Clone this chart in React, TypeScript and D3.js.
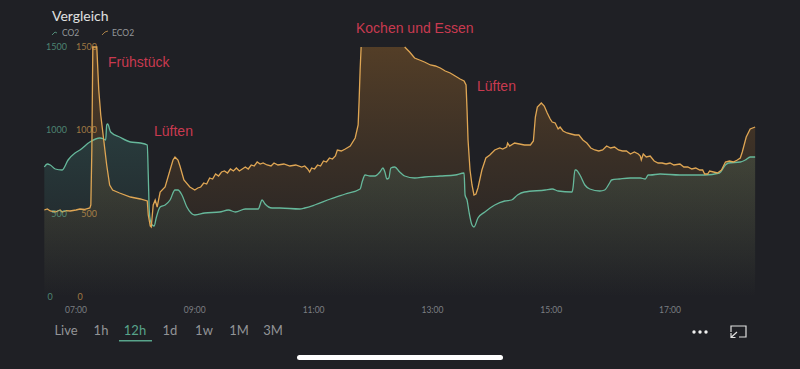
import React from "react";
import * as d3 from "d3";

type P = [number, number];
// [minutes since midnight, ppm]
const eco2Morning: P[] = [[388,522],[391,528],[394,516],[399,510],[404,522],[406,510],[410,518],[414,516],[420,522],[424,528],[429,526],[434,534],[435,552],[436,882],[437,1500],[438,1506],[441,1500],[443,1242],[445,1092],[448,942],[451,792],[454,672],[457,642],[464,624],[475,600],[485,588],[492,576],[493,492],[495,426],[496,420],[498,552],[500,582],[502,540],[505,630],[510,660],[515,762],[518,822],[520,840],[523,822],[525,786],[529,702],[535,660]];
const eco2Midday: P[] = [[540,642],[543,654],[546,660],[549,684],[552,678],[555,714],[558,708],[561,738],[564,726],[567,750],[570,756],[573,744],[576,768],[579,756],[582,774],[585,756],[588,768],[591,780],[594,768],[597,792],[600,786],[603,810],[606,798],[609,804],[613,792],[617,786],[620,804],[624,792],[630,798],[636,786],[642,792],[648,780],[651,786],[654,768],[656,750],[658,774],[661,768],[664,792],[667,786],[670,816],[673,810],[676,834],[679,828],[682,846],[684,882],[688,876],[692,888],[697,906],[702,954],[705,1032],[706,1182],[707,1362],[708,1500]];
const eco2Cooking: P[] = [[730,1500],[752,1500],[757,1470],[762,1434],[767,1422],[772,1410],[778,1392],[783,1386],[788,1374],[793,1356],[798,1344],[803,1326],[808,1308],[812,1296],[814,1272],[815,1122],[816,942],[818,762],[820,672],[822,612],[824,618],[826,654],[830,762],[834,834],[838,852],[843,882],[848,894],[851,888],[855,900],[856,924],[858,906],[863,924],[868,918],[873,912],[879,912]];
const eco2Afternoon: P[] = [[882,936],[884,1080],[886,1140],[890,1164],[893,1146],[896,1104],[899,1068],[901,1050],[904,1044],[907,1008],[909,1020],[912,996],[916,984],[920,978],[924,972],[928,972],[932,942],[936,924],[940,894],[944,882],[948,876],[952,882],[956,906],[960,894],[964,900],[968,882],[972,876],[976,876],[980,858],[984,870],[988,858],[990,846],[991,822],[993,858],[996,840],[1000,846],[1004,816],[1008,804],[1012,804],[1016,798],[1020,804],[1024,792],[1030,798],[1034,780],[1038,780],[1042,768],[1046,774],[1050,762],[1053,762],[1055,738],[1058,738],[1060,756],[1064,750],[1068,744],[1072,762],[1076,810],[1080,816],[1084,810],[1088,822],[1091,834],[1093,870],[1097,960],[1101,1008],[1106,1020]];
const co2Morning: P[] = [[388,780],[391,798],[394,792],[399,768],[406,762],[412,822],[419,864],[424,882],[434,930],[444,954],[448,948],[450,942],[451,1032],[452,1038],[455,990],[464,960],[475,930],[485,924],[492,912],[493,732],[494,522],[495,462],[497,432],[499,426],[501,474],[505,540],[510,552],[515,582],[520,642],[523,642],[527,612],[532,540],[540,492],[550,504],[565,510],[574,522],[581,510],[591,528],[604,528],[608,582],[611,558],[618,534]];
const co2Midday: P[] = [[626,534],[646,528],[651,534],[661,552],[677,588],[692,618],[707,648],[709,690],[712,732],[717,726],[722,726],[727,750],[730,774],[732,750],[734,708],[736,714],[738,774],[742,780],[747,750],[752,726],[762,714],[772,720],[788,726],[803,732],[812,744],[813,612],[815,582],[817,510],[820,432],[822,420],[826,474],[833,510],[843,552],[853,576],[860,582],[866,612],[873,630]];
const co2Afternoon: P[] = [[894,642],[901,648],[907,636],[921,630],[922,654],[924,762],[925,762],[929,732],[934,672],[939,648],[949,636],[954,642],[959,684],[961,702],[969,708],[980,714],[990,714],[995,708],[998,732],[1000,732],[1010,738],[1030,732],[1055,732],[1070,744],[1076,792],[1079,804],[1091,810],[1096,822],[1101,840],[1106,840]];

const yTicks = [0, 500, 1000, 1500];
const xTickMinutes = [420, 540, 660, 780, 900, 1020];
const ranges = ["Live", "1h", "12h", "1d", "1w", "1M", "3M"];
const rangeX = [66, 101, 135, 170, 204, 239, 273];
const notes = [
  { text: "Frühstück", x: 108, y: 67 },
  { text: "Lüften", x: 154, y: 136 },
  { text: "Kochen und Essen", x: 356, y: 33 },
  { text: "Lüften", x: 477, y: 91 },
];

const BG = "#1f2025";
const TEAL = "#66b89b";
const ORANGE = "#dfa654";
const FILL_TEAL = "#4fa79a";
const FILL_ORANGE = "#d98a2c";
const UI = "Lato, 'Open Sans', sans-serif";

const fmt = (m: number) => `${String(Math.floor(m / 60)).padStart(2, "0")}:00`;

export default function App() {
  const x = d3.scaleLinear().domain([420, 1020]).range([76, 670]);
  const y = d3.scaleLinear().domain([0, 1500]).range([297, 47]);
  const clipV = (v: number) => Math.min(v, 1500);
  const area = d3.area<P>().x((d) => x(d[0])).y0(y(0)).y1((d) => y(clipV(d[1])));
  const co2Line = d3.line<P>().x((d) => x(d[0])).y((d) => y(clipV(d[1]))).curve(d3.curveMonotoneX);
  // the eCO2 outline is open across the clipped plateau
  const eco2Line = d3.line<P>()
    .defined((d) => !(d[0] > 708 && d[0] < 752))
    .x((d) => x(d[0]))
    .y((d) => y(clipV(d[1])));
  const eco2 = [...eco2Morning, ...eco2Midday, ...eco2Cooking, ...eco2Afternoon];
  const co2 = [...co2Morning, ...co2Midday, ...co2Afternoon];

  return (
    <svg width={800} height={369} style={{ position: "absolute", left: 0, top: 0, background: BG }}>
      <defs>
        <linearGradient id="gCo2" gradientUnits="userSpaceOnUse" x1="0" y1="47" x2="0" y2="297">
          <stop offset="0" stopColor={FILL_TEAL} stopOpacity={0.3} />
          <stop offset="0.45" stopColor={FILL_TEAL} stopOpacity={0.17} />
          <stop offset="1" stopColor={FILL_TEAL} stopOpacity={0} />
        </linearGradient>
        <linearGradient id="gEco2" gradientUnits="userSpaceOnUse" x1="0" y1="47" x2="0" y2="297">
          <stop offset="0" stopColor={FILL_ORANGE} stopOpacity={0.28} />
          <stop offset="0.45" stopColor={FILL_ORANGE} stopOpacity={0.14} />
          <stop offset="1" stopColor={FILL_ORANGE} stopOpacity={0} />
        </linearGradient>
      </defs>

      <text x={52} y={21} fill="#e0e0e0" fontSize={14} fontFamily={UI}>Vergleich</text>
      <path d="M52 35 L55 32 L57 33" fill="none" stroke={TEAL} strokeWidth={1} opacity={0.7} />
      <text x={62} y={36} fill="#94979a" fontSize={8.5} fontFamily={UI}>CO2</text>
      <path d="M102 35 L105 32 L108 31" fill="none" stroke={ORANGE} strokeWidth={1} opacity={0.7} />
      <text x={112} y={36} fill="#94979a" fontSize={8.5} fontFamily={UI}>ECO2</text>

      <path d={area(co2) ?? ""} fill="url(#gCo2)" />
      <path d={area(eco2) ?? ""} fill="url(#gEco2)" />
      <path d={co2Line(co2) ?? ""} fill="none" stroke={TEAL} strokeWidth={1.3} />
      <path d={eco2Line(eco2) ?? ""} fill="none" stroke={ORANGE} strokeWidth={1.3} />

      {yTicks.map((t) => (
        <g key={t} fontSize={9} fontFamily={UI}>
          <text x={t === 0 ? 50 : 67} y={y(t) + 3} textAnchor={t === 0 ? "middle" : "end"} fill={TEAL} opacity={0.65}>{t}</text>
          <text x={t === 0 ? 80 : 97} y={y(t) + 3} textAnchor={t === 0 ? "middle" : "end"} fill={ORANGE} opacity={0.65}>{t}</text>
        </g>
      ))}
      {xTickMinutes.map((m) => (
        <text key={m} x={x(m)} y={313} textAnchor="middle" fill="#7c7f83" fontSize={8.5} fontFamily={UI}>{fmt(m)}</text>
      ))}

      {notes.map((n, i) => (
        <text key={i} x={n.x} y={n.y} fill="#c93a50" fontSize={14} fontFamily="'Liberation Sans', sans-serif">{n.text}</text>
      ))}

      {ranges.map((r, i) => (
        <text key={r} x={rangeX[i]} y={335} textAnchor="middle" fontSize={13} fontFamily={UI}
          fill={r === "12h" ? "#58a48b" : "#929497"}>{r}</text>
      ))}
      <rect x={119} y={340} width={33} height={1.5} fill="#58a48b" />

      {[694, 700, 706].map((c) => <circle key={c} cx={c} cy={332} r={1.7} fill="#f0f0f0" />)}
      <path d="M731 332 V326 H746 V337 H739" fill="none" stroke="#e0e0e0" strokeWidth={1.2} />
      <path d="M737 332 L731.5 337 M731 333 V337.5 H735.5" fill="none" stroke="#e0e0e0" strokeWidth={1.2} />
      <rect x={297} y={355} width={206} height={5} rx={2.5} fill="#ffffff" />
    </svg>
  );
}
